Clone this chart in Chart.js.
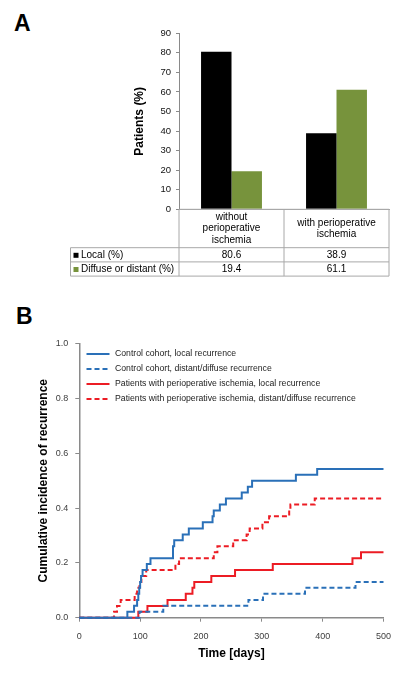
<!DOCTYPE html>
<html>
<head>
<meta charset="utf-8">
<script src="https://cdn.jsdelivr.net/npm/chart.js@4/dist/chart.umd.min.js"></script>
<style>
  html, body { margin: 0; padding: 0; background: #fff; }
  body { width: 400px; height: 677px; position: relative; overflow: hidden; font-family: "Liberation Sans", Arial, sans-serif; }
  .panel-label { position: absolute; font-weight: bold; font-size: 23px; line-height: 1; color: #000; }
  canvas { position: absolute; left: 0; }
</style>
</head>
<body>
<div class="panel-label" style="left:14px;top:12px;">A</div>
<div class="panel-label" style="left:16px;top:305px;">B</div>
<canvas id="chartA" width="400" height="300" style="top:0"></canvas>
<canvas id="chartB" width="400" height="377" style="top:300px"></canvas>
<script>
// Panel A data
const groupLabels = [['without', 'perioperative', 'ischemia'], ['with perioperative', 'ischemia']];
const seriesNames = ['Local (%)', 'Diffuse or distant (%)'];
const localPct = [80.6, 38.9];
const distantPct = [19.4, 61.1];

// Panel B data (days to event, cumulative incidence)
const ctrlLocalDays = [0, 79, 90, 95, 97, 98.5, 100, 101.5, 104, 111, 117, 154, 156, 170, 180, 203, 219, 221, 231, 241, 267, 277, 284, 356, 391, 500];
const ctrlLocalInc = [0, 0.022, 0.044, 0.065, 0.087, 0.109, 0.130, 0.152, 0.174, 0.196, 0.217, 0.261, 0.283, 0.304, 0.326, 0.348, 0.370, 0.391, 0.413, 0.435, 0.457, 0.478, 0.500, 0.522, 0.543, 0.543];
const ctrlDistDays = [0, 99, 138, 278, 302, 371, 454, 500];
const ctrlDistInc = [0, 0.022, 0.044, 0.065, 0.087, 0.109, 0.130, 0.130];
const ischLocalDays = [0, 97, 112, 145, 175, 186, 189, 217, 256, 318, 449, 463, 500];
const ischLocalInc = [0, 0.022, 0.043, 0.065, 0.087, 0.109, 0.130, 0.152, 0.174, 0.196, 0.217, 0.239, 0.239];
const ischDistDays = [0, 57, 62, 68, 91, 95, 99, 102, 110, 158, 164, 221, 227, 253, 275, 280, 301, 312, 345, 347, 387, 500];
const ischDistInc = [0, 0.022, 0.043, 0.065, 0.087, 0.109, 0.130, 0.152, 0.174, 0.196, 0.217, 0.239, 0.261, 0.283, 0.304, 0.326, 0.348, 0.370, 0.391, 0.413, 0.435, 0.435];
const curveNames = [
  'Control cohort, local recurrence',
  'Control cohort, distant/diffuse recurrence',
  'Patients with perioperative ischemia, local recurrence',
  'Patients with perioperative ischemia, distant/diffuse recurrence'
];

const FONT = '"Liberation Sans", Arial, sans-serif';
const AXIS_GRAY = '#8a8a8a';
const BLUE = '#2a70b8';
const RED = '#ec1c24';

// data table under the bars
const tablePlugin = {
  id: 'dataTable',
  afterDraw(chart) {
    const {ctx, chartArea} = chart;
    const ds = chart.data.datasets;
    const n = chart.data.labels.length;
    const colW = (chartArea.right - chartArea.left) / n;
    const top = chartArea.bottom;
    const headH = 38.4, rowH = 14.2;
    const left = 70.5;
    const edges = [chartArea.left];
    for (let i = 1; i <= n; i++) edges.push(chartArea.left + i * colW);
    const bottom = top + headH + rowH * ds.length;

    ctx.save();
    ctx.strokeStyle = '#a8a8a8';
    ctx.lineWidth = 1;
    ctx.beginPath();
    ctx.moveTo(chartArea.left, top); ctx.lineTo(chartArea.right, top);
    for (let r = 0; r <= ds.length; r++) {
      const y = top + headH + r * rowH;
      ctx.moveTo(left, y); ctx.lineTo(chartArea.right, y);
    }
    ctx.moveTo(left, top + headH); ctx.lineTo(left, bottom);
    edges.forEach((e, i) => {
      ctx.moveTo(e, i === 0 ? chartArea.bottom : top); ctx.lineTo(e, bottom);
    });
    ctx.stroke();

    ctx.fillStyle = '#000';
    ctx.font = '10px ' + FONT;
    ctx.textAlign = 'center';
    ctx.textBaseline = 'middle';
    chart.data.labels.forEach((lab, i) => {
      const cx = chart.scales.x.getPixelForValue(i);
      const cy = top + headH / 2;
      lab.forEach((line, k) => ctx.fillText(line, cx, cy + (k - (lab.length - 1) / 2) * 11.3));
    });
    ds.forEach((d, r) => {
      const cy = top + headH + r * rowH + rowH / 2 + 0.5;
      ctx.fillStyle = d.backgroundColor;
      ctx.fillRect(left + 3, cy - 2.5, 5, 5);
      ctx.fillStyle = '#000';
      ctx.textAlign = 'left';
      ctx.fillText(d.label, left + 10.5, cy);
      ctx.textAlign = 'center';
      d.data.forEach((v, i) => ctx.fillText(v.toFixed(1), chart.scales.x.getPixelForValue(i), cy));
    });
    ctx.restore();
  }
};

new Chart(document.getElementById('chartA'), {
  type: 'bar',
  data: {
    labels: groupLabels,
    datasets: [
      { label: seriesNames[0], data: localPct, backgroundColor: '#000000' },
      { label: seriesNames[1], data: distantPct, backgroundColor: '#77933c' }
    ]
  },
  options: {
    responsive: false,
    animation: false,
    layout: { padding: { left: 0, top: 33.3, right: 11, bottom: 90.7 } },
    datasets: { bar: { categoryPercentage: 0.58, barPercentage: 1 } },
    plugins: { legend: { display: false }, tooltip: { enabled: false } },
    scales: {
      x: {
        ticks: { display: false },
        grid: { display: false },
        border: { color: '#a8a8a8' },
        afterFit(s) { s.height = 0; }
      },
      y: {
        min: 0, max: 90,
        ticks: { stepSize: 10, color: '#111', padding: 5, font: { family: FONT, size: 9.5 } },
        grid: { drawOnChartArea: false, tickLength: 3, color: AXIS_GRAY },
        border: { color: AXIS_GRAY },
        title: { display: true, text: 'Patients (%)', color: '#000', font: { family: FONT, size: 12, weight: 'bold' }, padding: { top: 132.8, bottom: 0 } },
        afterFit(s) { s.width = 179; }
      }
    }
  },
  plugins: [tablePlugin]
});

// legend for the curves, one item per row
const curveLegend = {
  id: 'curveLegend',
  afterDatasetsDraw(chart) {
    const {ctx} = chart;
    ctx.save();
    ctx.font = '8.7px ' + FONT;
    ctx.textBaseline = 'middle';
    ctx.textAlign = 'left';
    chart.data.datasets.forEach((d, i) => {
      const y = 54 + i * 15;
      ctx.strokeStyle = d.borderColor;
      ctx.lineWidth = 2;
      ctx.setLineDash(d.borderDash || []);
      ctx.beginPath();
      ctx.moveTo(86.5, y); ctx.lineTo(109.5, y);
      ctx.stroke();
      ctx.fillStyle = '#222';
      ctx.fillText(d.label, 115, y);
    });
    ctx.restore();
  }
};

function curve(label, days, inc, color, dash) {
  return {
    label,
    data: days.map((d, i) => ({ x: d, y: inc[i] })),
    borderColor: color,
    borderWidth: 2,
    borderDash: dash,
    stepped: 'before',
    pointRadius: 0,
    fill: false,
    clip: 4
  };
}

new Chart(document.getElementById('chartB'), {
  type: 'line',
  data: {
    datasets: [
      curve(curveNames[0], ctrlLocalDays, ctrlLocalInc, BLUE, []),
      curve(curveNames[1], ctrlDistDays, ctrlDistInc, BLUE, [5, 3]),
      curve(curveNames[2], ischLocalDays, ischLocalInc, RED, []),
      curve(curveNames[3], ischDistDays, ischDistInc, RED, [5, 3])
    ]
  },
  options: {
    responsive: false,
    animation: false,
    layout: { padding: { left: 0, top: 43.7, right: 15.7, bottom: 0 } },
    plugins: { legend: { display: false }, tooltip: { enabled: false } },
    scales: {
      x: {
        type: 'linear', min: 0, max: 500,
        ticks: { stepSize: 100, maxRotation: 0, color: '#404040', padding: 9, font: { family: FONT, size: 9 } },
        grid: { drawOnChartArea: false, tickLength: 4, color: AXIS_GRAY },
        border: { color: AXIS_GRAY, width: 1.5 },
        title: { display: true, text: 'Time [days]', color: '#000', font: { family: FONT, size: 12, weight: 'bold' }, padding: { top: 0, bottom: 15.8 } },
        afterFit(s) { s.height = 59.3; }
      },
      y: {
        min: 0, max: 1,
        ticks: { stepSize: 0.2, color: '#404040', padding: 7, font: { family: FONT, size: 9 }, callback: v => v.toFixed(1) },
        grid: { drawOnChartArea: false, tickLength: 4, color: AXIS_GRAY },
        border: { color: AXIS_GRAY, width: 1.5 },
        title: { display: true, text: 'Cumulative incidence of recurrence', color: '#000', font: { family: FONT, size: 12, weight: 'bold' }, padding: { top: 36.8, bottom: 0 } },
        afterFit(s) { s.width = 79.3; }
      }
    }
  },
  plugins: [curveLegend]
});
</script>
</body>
</html>
